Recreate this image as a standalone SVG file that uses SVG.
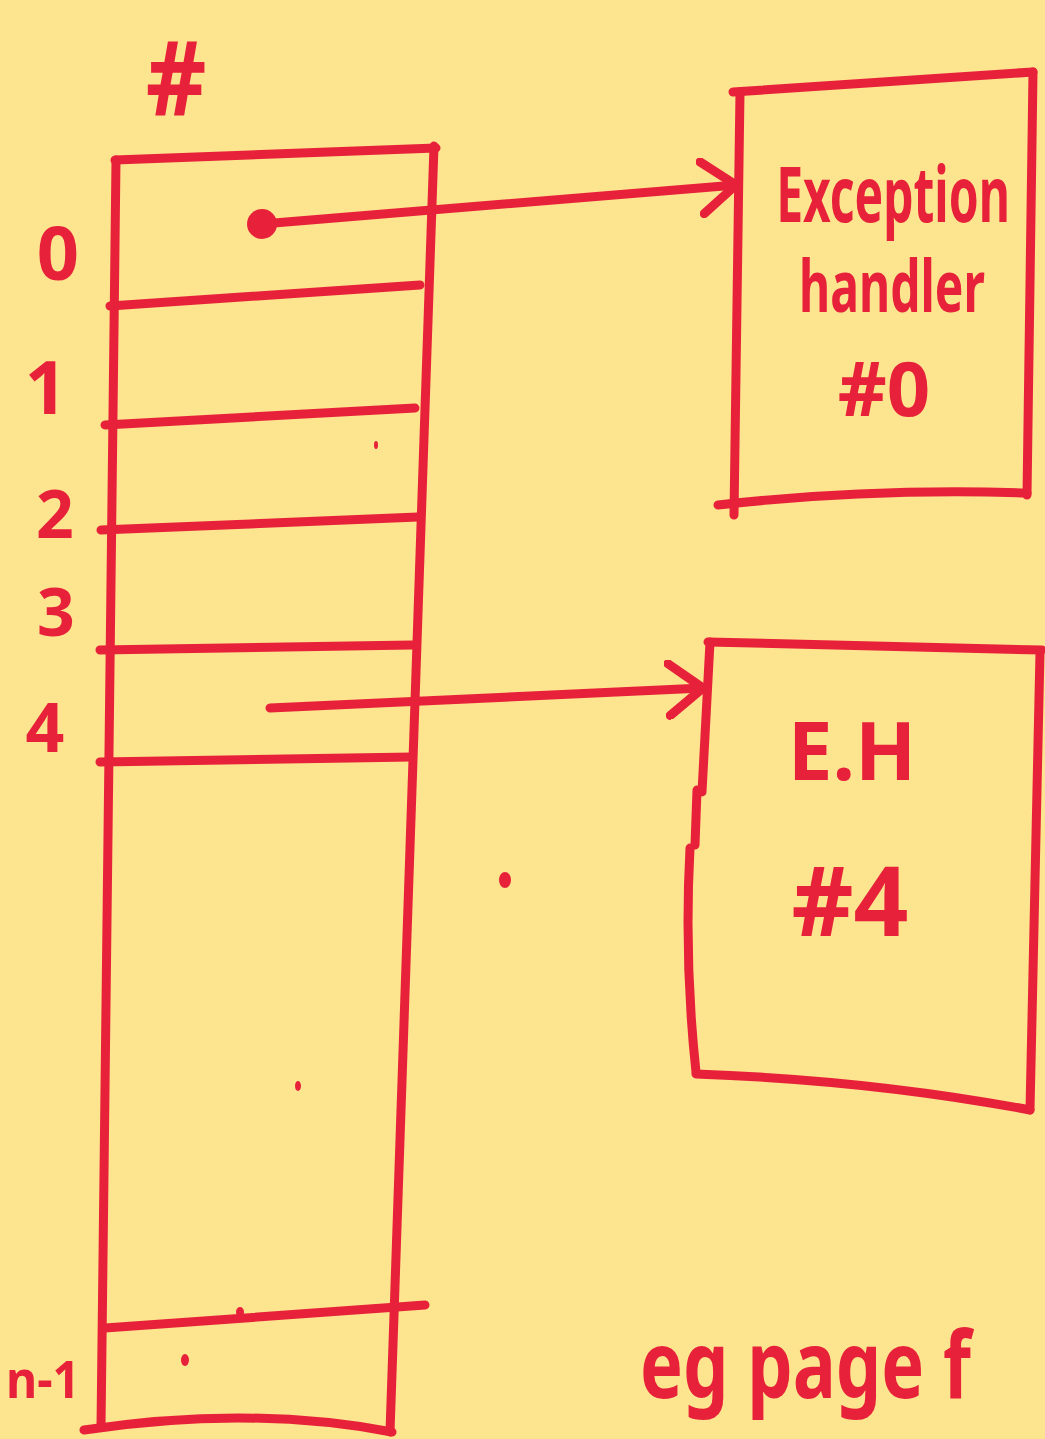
<svg xmlns="http://www.w3.org/2000/svg" width="1045" height="1439" viewBox="0 0 1045 1439">
  <style>
    .ink { fill: none; stroke: #e8213b; stroke-width: 9; stroke-linecap: round; stroke-linejoin: round; }
    .hand { fill: #e8213b; font-family: "Noto Sans", "Liberation Sans", sans-serif; font-weight: bold; }
    .speck { fill: #e8213b; }
  </style>
  <defs>
    <marker id="chevron" viewBox="0 0 40 60" refX="38" refY="30" markerWidth="40" markerHeight="60" markerUnits="userSpaceOnUse" orient="auto">
      <path d="M4 4 L38 30 L4 56" fill="none" stroke="#e8213b" stroke-width="9" stroke-linecap="round" stroke-linejoin="round"/>
    </marker>
  </defs>

  <!-- paper -->
  <rect width="1045" height="1439" fill="#fde48f"/>

  <!-- table of handler slots -->
  <g id="table">
    <text class="hand" font-size="94" text-anchor="middle" transform="translate(176 116) scale(1 1.1)">#</text>
    <path class="ink" d="M115 160 L436 148"/>
    <path class="ink" d="M116 160 Q108 800 101 1427"/>
    <path class="ink" d="M434 146 Q412 800 390 1432"/>
    <path class="ink" d="M110 306 L420 285"/>
    <path class="ink" d="M105 425 L415 408"/>
    <path class="ink" d="M101 530 L418 517"/>
    <path class="ink" d="M100 650 L412 645"/>
    <path class="ink" d="M100 762 L412 757"/>
    <path class="ink" d="M105 1328 L425 1305"/>
    <path class="ink" d="M84 1430 Q250 1405 392 1432"/>
    <text class="hand" x="58" y="280" font-size="74" text-anchor="middle">0</text>
    <text class="hand" x="46" y="414" font-size="74" text-anchor="middle">1</text>
    <text class="hand" x="55" y="538" font-size="66" text-anchor="middle">2</text>
    <text class="hand" x="56" y="636" font-size="66" text-anchor="middle">3</text>
    <text class="hand" x="45" y="752" font-size="68" text-anchor="middle">4</text>
    <text class="hand" x="6" y="1398" font-size="52" textLength="74" lengthAdjust="spacingAndGlyphs">n-1</text>
  </g>

  <!-- handler for slot 0 -->
  <g id="handler0">
    <path class="ink" d="M733 92 L1033 72"/>
    <path class="ink" d="M740 92 L734 515"/>
    <path class="ink" d="M1033 72 L1027 495"/>
    <path class="ink" d="M718 505 Q870 488 1027 493"/>
    <text class="hand" font-size="48" text-anchor="middle" transform="translate(893 222) scale(1 1.6)">Exception</text>
    <text class="hand" font-size="48" text-anchor="middle" transform="translate(892 312) scale(1 1.5)">handler</text>
    <text class="hand" x="884" y="416" font-size="76" text-anchor="middle">#0</text>
  </g>

  <!-- handler for slot 4 -->
  <g id="handler4">
    <path class="ink" d="M708 642 L1042 650"/>
    <path class="ink" d="M710 642 L702 792"/>
    <path class="ink" d="M697 790 L695 845"/>
    <path class="ink" d="M690 848 Q684 960 696 1072"/>
    <path class="ink" d="M696 1074 Q870 1080 1030 1110"/>
    <path class="ink" d="M1040 652 L1030 1110"/>
    <text class="hand" x="852" y="780" font-size="80" text-anchor="middle">E.H</text>
    <text class="hand" x="850" y="936" font-size="96" text-anchor="middle">#4</text>
  </g>

  <!-- pointers from slots to handlers -->
  <g id="connectors">
    <circle class="speck" cx="262" cy="224" r="15"/>
    <path class="ink" d="M262 224 L736 185" marker-end="url(#chevron)"/>
    <path class="ink" d="M270 708 L703 688" marker-end="url(#chevron)"/>
  </g>

  <!-- note at the foot of the page -->
  <text class="hand" font-size="72" transform="translate(640 1398) scale(1 1.3)">eg page f</text>

  <!-- stray marker dots -->
  <ellipse class="speck" cx="505" cy="880" rx="6" ry="8"/>
  <ellipse class="speck" cx="298" cy="1086" rx="3" ry="5"/>
  <ellipse class="speck" cx="403" cy="1080" rx="3" ry="5"/>
  <ellipse class="speck" cx="185" cy="1360" rx="4" ry="6"/>
  <ellipse class="speck" cx="240" cy="1312" rx="4" ry="5"/>
  <ellipse class="speck" cx="376" cy="445" rx="2" ry="4"/>
</svg>
